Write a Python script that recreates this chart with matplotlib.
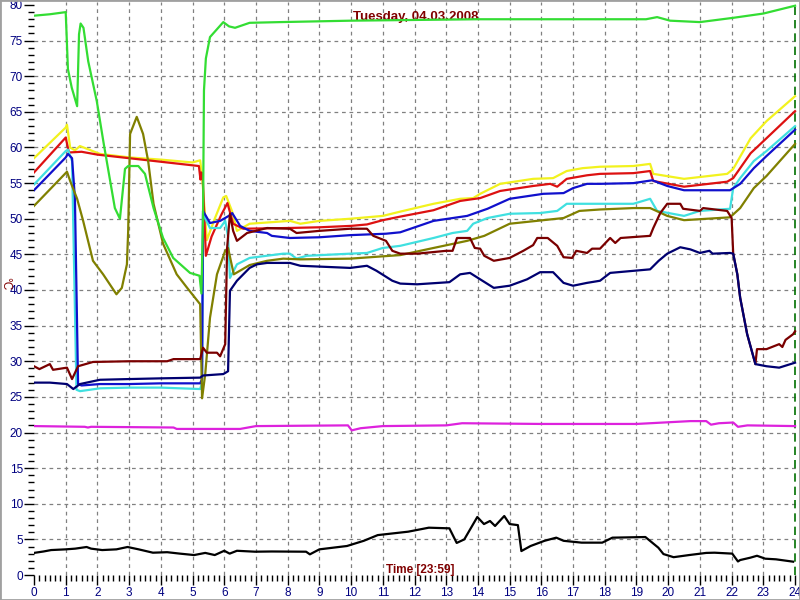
import matplotlib
matplotlib.use("Agg")
import matplotlib.pyplot as plt
from matplotlib.patches import Rectangle
from matplotlib.ticker import MultipleLocator

# temperature curves, (hour, °C)
green = [(0, 78.5), (0.5, 78.7), (1.0, 79.0), (1.07, 71.0), (1.19, 68.4), (1.36, 65.8),
         (1.42, 75.9), (1.47, 77.4), (1.56, 76.8), (1.71, 72.1), (1.98, 66.5), (2.2, 60.5),
         (2.55, 51.5), (2.71, 50.0), (2.87, 57.0), (2.97, 57.4), (3.29, 57.4), (3.5, 56.3),
         (3.77, 51.5), (4.07, 47.3), (4.39, 44.5), (4.92, 42.4), (5.22, 42.0), (5.28, 39.5),
         (5.33, 50.0), (5.36, 68.0), (5.42, 72.5), (5.55, 75.5), (5.75, 76.5), (5.97, 77.6),
         (6.15, 77.0), (6.34, 76.8), (6.8, 77.5), (7.76, 77.6), (10, 77.8), (12, 77.9),
         (14, 78.0), (16, 78.0), (18, 78.0), (19.3, 78.0), (19.65, 78.3), (20.06, 77.8),
         (21.0, 77.6), (22.05, 78.2), (23.0, 78.8), (24.0, 79.9)]

yellow = [(0, 58.5), (1.0, 62.8), (1.04, 63.2), (1.14, 60.0), (1.29, 59.6), (1.45, 60.2),
          (2.08, 59.1), (3.03, 58.6), (4.0, 58.3), (5.0, 57.9), (5.24, 58.2), (5.3, 56.0),
          (5.45, 47.0), (5.7, 50.0), (5.97, 53.0), (6.06, 53.2), (6.25, 51.0), (6.4, 48.3),
          (6.8, 49.3), (8.07, 49.7), (8.4, 49.3), (9.0, 49.7), (9.97, 50.0), (11.0, 50.4),
          (11.55, 51.0), (12.6, 52.1), (13.44, 52.8), (13.85, 52.9), (14.07, 53.5), (14.7, 54.9),
          (15.74, 55.6), (16.37, 55.7), (16.8, 56.7), (17.3, 57.1), (17.85, 57.3), (18.9, 57.4),
          (19.43, 57.7), (19.53, 56.3), (20.5, 55.6), (21.86, 56.3), (22.05, 57.0), (22.6, 61.3),
          (23.1, 63.7), (24.0, 67.2)]

red = [(0, 56.5), (1.0, 61.4), (1.1, 59.3), (1.5, 59.4), (2.0, 59.0), (3.0, 58.5), (4.0, 58.0),
       (5.0, 57.5), (5.2, 57.4), (5.25, 55.5), (5.28, 56.5), (5.32, 56.0), (5.42, 44.8),
       (5.6, 47.5), (5.9, 50.5), (6.1, 52.2), (6.28, 49.3), (6.6, 48.6), (8.0, 48.7), (9.0, 48.8),
       (10.0, 49.0), (10.5, 49.2), (11.0, 49.8), (11.55, 50.3), (12.6, 51.2), (13.44, 52.5),
       (14.07, 52.9), (14.7, 53.9), (15.74, 54.6), (16.28, 54.9), (16.5, 54.5), (16.8, 55.6),
       (17.44, 56.1), (17.85, 56.3), (18.9, 56.4), (19.43, 56.7), (19.53, 55.3), (20.5, 54.5),
       (21.86, 55.2), (22.05, 55.7), (22.6, 59.2), (23.1, 61.3), (24.0, 65.1)]

cyan = [(0, 54.8), (1.0, 59.5), (1.07, 59.7), (1.2, 58.1), (1.27, 42.0), (1.34, 26.0), (1.45, 25.8),
        (2.08, 26.2), (3.0, 26.3), (4.0, 26.3), (5.24, 26.1), (5.3, 27.0), (5.33, 50.7),
        (5.55, 48.7), (5.87, 48.7), (6.03, 49.7), (6.12, 47.5), (6.18, 41.7), (6.4, 43.6),
        (6.8, 44.5), (7.86, 45.1), (8.07, 45.1), (8.28, 44.4), (8.6, 44.8), (9.97, 45.1),
        (10.5, 45.2), (11.0, 45.9), (11.55, 46.2), (12.6, 47.3), (13.2, 48.0), (13.66, 48.3),
        (13.85, 49.3), (14.3, 50.1), (15.0, 50.7), (15.96, 50.8), (16.5, 51.1), (16.8, 52.1),
        (17.44, 52.1), (17.85, 52.1), (18.9, 52.1), (19.43, 52.8), (19.65, 51.1), (20.5, 50.4),
        (21.0, 51.1), (21.95, 51.4), (22.05, 54.3), (22.27, 55.7), (22.7, 58.1), (23.1, 59.5),
        (24.0, 63.0)]

blue = [(0, 54.0), (1.0, 58.6), (1.07, 59.1), (1.2, 58.5), (1.29, 52.9), (1.39, 26.8), (1.5, 26.6),
        (2.08, 26.8), (3.0, 26.8), (4.0, 26.9), (5.24, 26.9), (5.3, 27.5), (5.33, 51.1),
        (5.55, 49.4), (5.87, 49.7), (6.18, 50.5), (6.25, 50.8), (6.5, 49.0), (6.8, 48.3),
        (7.35, 48.0), (7.5, 47.6), (8.07, 47.3), (9.0, 47.4), (9.97, 47.7), (11.1, 47.9),
        (11.55, 48.1), (12.6, 49.7), (13.66, 50.4), (14.3, 51.4), (15.0, 52.8), (16.06, 53.5),
        (16.7, 53.6), (17.0, 54.3), (17.44, 54.9), (17.85, 54.9), (18.9, 55.0), (19.5, 55.4),
        (19.97, 54.6), (20.5, 54.0), (21.95, 54.0), (22.27, 54.9), (22.7, 57.1), (23.1, 58.8),
        (24.0, 62.5)]

olive = [(0, 51.8), (1.04, 56.6), (1.14, 55.3), (1.36, 52.8), (1.55, 49.7), (1.86, 44.1),
         (2.18, 42.2), (2.6, 39.4), (2.77, 40.3), (2.93, 43.6), (2.97, 48.3), (3.03, 61.9),
         (3.24, 64.3), (3.44, 61.9), (3.6, 58.1), (3.77, 52.1), (4.07, 46.5), (4.5, 42.2),
         (4.83, 40.3), (5.24, 38.0), (5.3, 24.8), (5.4, 28.2), (5.55, 36.1), (5.77, 42.2),
         (6.03, 45.5), (6.12, 45.9), (6.3, 42.2), (6.8, 43.5), (7.35, 44.1), (7.86, 44.4),
         (8.4, 44.3), (9.97, 44.4), (11.55, 44.9), (12.6, 45.9), (13.66, 46.9), (14.2, 47.6),
         (15.0, 49.3), (16.06, 49.8), (16.7, 50.1), (17.2, 51.1), (17.85, 51.3), (18.9, 51.5),
         (19.43, 51.5), (19.97, 50.4), (20.5, 49.8), (21.95, 50.2), (22.27, 51.5), (22.7, 54.3),
         (23.1, 56.0), (24.0, 60.5)]

maroon = [(0, 29.3), (0.17, 28.9), (0.5, 29.6), (0.6, 28.8), (1.04, 29.1), (1.2, 27.5),
          (1.39, 29.3), (1.86, 29.9), (3.0, 30.0), (4.2, 30.0), (4.4, 30.3), (5.24, 30.3),
          (5.33, 31.9), (5.45, 31.2), (5.77, 31.2), (5.87, 30.7), (6.03, 32.4), (6.09, 45.9),
          (6.18, 50.7), (6.28, 48.3), (6.4, 46.9), (6.72, 48.0), (7.35, 48.7), (8.07, 48.6),
          (8.28, 48.0), (9.0, 48.3), (9.97, 48.6), (10.5, 48.6), (10.7, 47.6), (11.1, 46.9),
          (11.3, 45.5), (11.55, 45.1), (12.08, 45.1), (13.0, 45.5), (13.2, 45.5), (13.34, 47.3),
          (13.75, 47.3), (13.9, 45.9), (14.07, 45.8), (14.2, 44.8), (14.5, 44.1), (15.0, 44.5),
          (15.43, 45.5), (15.74, 46.3), (15.87, 47.3), (16.2, 47.3), (16.5, 46.2), (16.7, 44.6),
          (16.97, 44.5), (17.1, 45.5), (17.44, 45.2), (17.6, 45.8), (17.85, 45.8), (18.17, 47.3),
          (18.33, 46.6), (18.5, 47.3), (19.43, 47.6), (19.53, 48.7), (19.75, 50.8), (19.97, 52.1),
          (20.38, 52.1), (20.47, 51.4), (21.0, 51.1), (21.1, 51.5), (21.86, 51.1), (22.0, 50.1),
          (22.05, 45.1), (22.18, 42.2), (22.27, 38.9), (22.49, 33.8), (22.75, 29.6), (22.8, 31.7),
          (23.1, 31.7), (23.5, 32.4), (23.6, 32.0), (23.7, 33.0), (23.94, 33.8), (24.0, 34.2)]

navy = [(0, 27.0), (0.5, 27.0), (1.04, 26.8), (1.24, 26.1), (1.45, 26.8), (2.08, 27.4), (3.0, 27.5),
        (4.0, 27.6), (5.24, 27.7), (5.33, 28.0), (5.97, 28.2), (6.12, 28.6), (6.18, 39.9),
        (6.4, 41.3), (6.8, 43.1), (7.03, 43.6), (7.35, 43.8), (8.07, 43.8), (8.4, 43.4),
        (9.97, 43.1), (10.5, 43.4), (10.8, 42.7), (11.3, 41.3), (11.55, 40.9), (12.08, 40.8),
        (13.1, 41.1), (13.44, 42.2), (13.75, 42.4), (14.07, 41.5), (14.5, 40.3), (15.0, 40.6),
        (15.55, 41.5), (15.96, 42.5), (16.37, 42.5), (16.7, 41.0), (17.0, 40.6), (17.44, 41.0),
        (17.85, 41.3), (18.17, 42.4), (19.43, 42.9), (19.7, 44.1), (19.97, 45.1), (20.38, 46.0),
        (20.7, 45.7), (21.0, 45.2), (21.3, 45.5), (21.4, 45.1), (21.95, 45.2), (22.05, 45.1),
        (22.18, 42.2), (22.27, 38.9), (22.49, 33.8), (22.75, 29.6), (23.1, 29.3), (23.5, 29.1),
        (24.0, 29.8)]

magenta = [(0, 20.9), (1.6, 20.8), (1.7, 20.7), (1.8, 20.8), (4.4, 20.7), (4.5, 20.5),
           (6.5, 20.5), (7.0, 20.9), (9.9, 21.0), (10.02, 20.3), (10.3, 20.6), (11.0, 20.9),
           (13.0, 21.0), (13.5, 21.3), (16.0, 21.2), (19.0, 21.2), (20.7, 21.6), (21.2, 21.6),
           (21.35, 21.1), (21.6, 21.3), (22.05, 21.4), (22.2, 20.8), (22.5, 21.0), (24.0, 20.9)]

black = [(0, 3.1), (0.3, 3.3), (0.54, 3.5), (1.0, 3.6), (1.3, 3.7), (1.66, 3.93), (1.8, 3.7),
         (2.15, 3.5), (2.6, 3.6), (2.95, 3.93), (3.3, 3.6), (3.75, 3.13), (4.2, 3.2), (4.6, 3.0),
         (5.05, 2.8), (5.4, 3.1), (5.7, 2.8), (6.0, 3.4), (6.17, 3.0), (6.4, 3.4), (6.97, 3.27),
         (7.5, 3.3), (8.58, 3.27), (8.7, 2.9), (9.0, 3.6), (9.87, 4.07), (10.4, 4.8), (10.84, 5.6),
         (11.8, 6.08), (12.45, 6.64), (13.1, 6.55), (13.33, 4.5), (13.57, 5.0), (13.98, 8.14),
         (14.19, 7.15), (14.38, 7.58), (14.54, 6.88), (14.83, 8.28), (15.0, 7.15), (15.26, 7.0),
         (15.37, 3.36), (15.66, 4.07), (16.1, 4.8), (16.47, 5.24), (16.7, 4.8), (17.27, 4.54),
         (17.92, 4.54), (18.24, 5.24), (19.28, 5.33), (19.69, 3.83), (19.85, 2.94), (20.17, 2.5),
         (20.66, 2.8), (21.2, 3.1), (21.46, 3.13), (22.02, 3.0), (22.2, 1.9), (22.27, 2.1),
         (22.59, 2.43), (22.8, 2.7), (23.06, 2.29), (23.4, 2.2), (23.94, 1.87)]

series = [(yellow, "#f2f21e"), (red, "#dd1111"), (cyan, "#40e0e0"), (blue, "#1010cc"),
          (olive, "#808000"), (maroon, "#7a0000"), (navy, "#000070"), (green, "#33dd33"),
          (magenta, "#dd22dd"), (black, "#000000")]

x_ticks = list(range(0, 25))
y_ticks = list(range(0, 81, 5))
title = "Tuesday, 04.03.2008"
xlabel = "Time [23:59]"
ylabel = "°C"

txt_red = "#800000"
font = ["Liberation Sans", "DejaVu Sans"]

fig = plt.figure(figsize=(8, 6), dpi=100)
fig.patch.set_facecolor("white")
ax = fig.add_axes([34 / 800, 25 / 600, 763 / 800, 573 / 600])
ax.set_xlim(0, 763 / 31.71)
ax.set_ylim(0, 573 / 7.125)

# dashed grid, no line on the axes themselves
for h in x_ticks[1:-1]:
    ax.axvline(h, color="#808080", lw=0.9, ls=(0, (3, 3)), zorder=0)
for t in y_ticks[1:-1]:
    ax.axhline(t, color="#808080", lw=0.9, ls=(0, (3, 3)), zorder=0)
ax.axvline(24, color="#007000", lw=1.2, ls=(0, (5, 3)), zorder=0)

ax.text(0.5, 1 - 15 / 573, title, transform=ax.transAxes, ha="center", va="center",
        fontsize=9.5, fontweight="bold", color=txt_red, family=font, zorder=1)

for pts, col in series:
    hrs = [p[0] for p in pts]
    vals = [p[1] for p in pts]
    ax.plot(hrs, vals, color=col, lw=1.6, zorder=3)

for s in ax.spines.values():
    s.set_visible(False)

ax.set_xticks(x_ticks)
ax.set_yticks(y_ticks)
ax.xaxis.set_minor_locator(MultipleLocator(1 / 6))
ax.yaxis.set_minor_locator(MultipleLocator(1))
ax.tick_params(which="major", length=7, width=1, color="black", labelcolor="#000080",
               labelsize=8.5, pad=2)
ax.tick_params(axis="y", which="major", pad=1)
ax.tick_params(which="minor", length=4, width=1, color="black")
for lab in ax.get_xticklabels() + ax.get_yticklabels():
    lab.set_family(font)

fig.text(420 / 800, 1 - 570 / 600, xlabel, ha="center", va="center", fontsize=8.5,
         fontweight="bold", color=txt_red, family=font)
fig.text(5 / 800, 1 - 284 / 600, ylabel, ha="center", va="center", fontsize=8.5,
         rotation=270, color=txt_red, family=font)

fig.patches.append(Rectangle((0, 0), 1, 1, transform=fig.transFigure, fill=False,
                             edgecolor="#a0a0a0", lw=2))

fig.savefig("out.png", dpi=100)
